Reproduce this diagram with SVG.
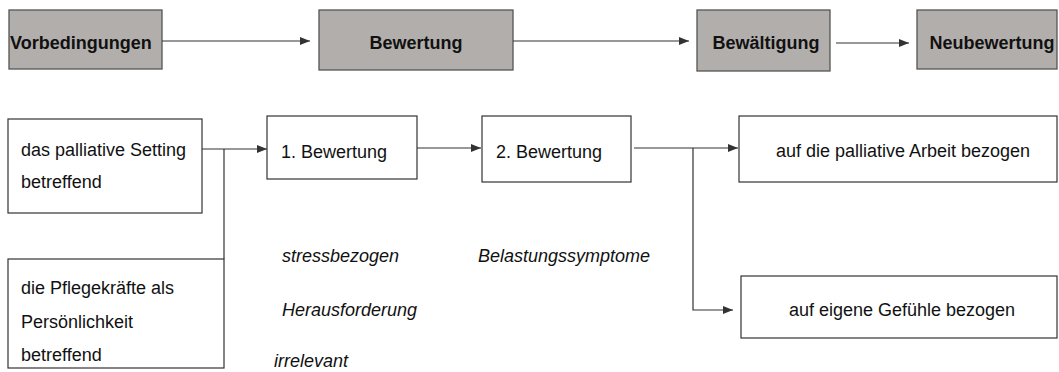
<svg xmlns="http://www.w3.org/2000/svg" width="1059" height="372" viewBox="0 0 1059 372">
<defs>
<marker id="ah" viewBox="0 0 10 10" refX="10" refY="5" markerWidth="10" markerHeight="10" markerUnits="userSpaceOnUse" orient="auto">
<path d="M0,1 L10,5 L0,9 z" fill="#333"/>
</marker>
</defs>
<style>
.top rect{fill:#b1aeac;stroke:#555;stroke-width:1.3}
.top text{font-family:"Liberation Sans",Arial,sans-serif;font-weight:bold;font-size:18px;fill:#111}
.box rect{fill:#fff;stroke:#333;stroke-width:1.2}
.box text,.lbl{font-family:"Liberation Sans",Arial,sans-serif;font-size:18px;fill:#111}
.lbl{font-style:italic}
.conn path{fill:none;stroke:#333;stroke-width:1.2}
</style>
<rect width="1059" height="372" fill="#fff"/>
<g id="n-vorbedingungen" class="top"><rect x="9" y="10" width="153" height="59"/><text x="10" y="49">Vorbedingungen</text></g>
<g id="n-bewertung" class="top"><rect x="319" y="10" width="194" height="60"/><text x="416" y="49" text-anchor="middle">Bewertung</text></g>
<g id="n-bewaeltigung" class="top"><rect x="697" y="10" width="133" height="61"/><text x="766" y="49" text-anchor="middle">Bewältigung</text></g>
<g id="n-neubewertung" class="top"><rect x="917" y="10" width="140" height="59"/><text x="992" y="49" text-anchor="middle">Neubewertung</text></g>

<g id="n-setting" class="box"><rect x="8" y="119" width="194" height="94"/><text x="21" y="156">das palliative Setting</text><text x="21" y="188">betreffend</text></g>
<g id="n-pflegekraefte" class="box"><rect x="8" y="259" width="216" height="109"/><text x="21" y="294">die Pflegekräfte als</text><text x="21" y="328">Persönlichkeit</text><text x="21" y="361">betreffend</text></g>
<g id="n-bew1" class="box"><rect x="267" y="116" width="150" height="63"/><text x="281" y="158">1. Bewertung</text></g>
<g id="n-bew2" class="box"><rect x="482" y="116" width="149" height="66"/><text x="496" y="158">2. Bewertung</text></g>
<g id="n-arbeit" class="box"><rect x="739" y="116" width="318" height="66"/><text x="903" y="157" text-anchor="middle">auf die palliative Arbeit bezogen</text></g>
<g id="n-gefuehle" class="box"><rect x="741" y="276" width="316" height="62"/><text x="902" y="316" text-anchor="middle">auf eigene Gefühle bezogen</text></g>

<g id="labels">
<text class="lbl" x="282" y="262">stressbezogen</text>
<text class="lbl" x="282" y="316">Herausforderung</text>
<text class="lbl" x="274" y="367">irrelevant</text>
<text class="lbl" x="478" y="262">Belastungssymptome</text>
</g>

<g id="connectors" class="conn">
<path d="M162,41 H310" marker-end="url(#ah)"/>
<path d="M513,41 H689" marker-end="url(#ah)"/>
<path d="M836,43 H909" marker-end="url(#ah)"/>
<path d="M202,149 H267" marker-end="url(#ah)"/>
<path d="M224,149 V259"/>
<path d="M417,148 H481" marker-end="url(#ah)"/>
<path d="M634,148 H738" marker-end="url(#ah)"/>
<path d="M693,148 V310 H733" marker-end="url(#ah)"/>
</g>
</svg>
